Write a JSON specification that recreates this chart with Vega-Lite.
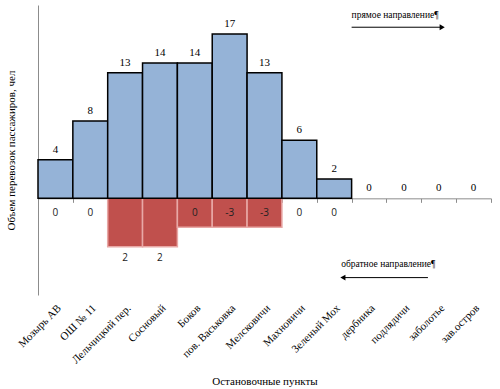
{
  "$schema": "https://vega.github.io/schema/vega-lite/v6.json",
  "width": 453,
  "height": 290,
  "autosize": "none",
  "padding": {"left": 38, "top": 5, "right": 9, "bottom": 94},
  "background": "white",
  "config": {"view": {"stroke": null}, "font": "Liberation Serif"},
  "data": {"values": [
    {"stop": "Мозырь АВ", "fwd": 4, "rev": 0, "revLabel": "0"},
    {"stop": "ОШ № 11", "fwd": 8, "rev": 0, "revLabel": "0"},
    {"stop": "Лельчицкий пер.", "fwd": 13, "rev": -5, "revLabel": "2"},
    {"stop": "Сосновый", "fwd": 14, "rev": -5, "revLabel": "2"},
    {"stop": "Боков", "fwd": 14, "rev": -3, "revLabel": "0"},
    {"stop": "пов. Васьковка", "fwd": 17, "rev": -3, "revLabel": "-3"},
    {"stop": "Мелсковичи", "fwd": 13, "rev": -3, "revLabel": "-3"},
    {"stop": "Махновичи", "fwd": 6, "rev": 0, "revLabel": "0"},
    {"stop": "Зеленый Мох", "fwd": 2, "rev": 0, "revLabel": "0"},
    {"stop": "дербника", "fwd": 0, "rev": 0, "revLabel": ""},
    {"stop": "подлядичи", "fwd": 0, "rev": 0, "revLabel": ""},
    {"stop": "заболотье", "fwd": 0, "rev": 0, "revLabel": ""},
    {"stop": "зав.остров", "fwd": 0, "rev": 0, "revLabel": ""}
  ]},
  "resolve": {"axis": {"x": "independent"}},
  "layer": [
    {
      "transform": [{"filter": "datum.rev < 0"}],
      "mark": {"type": "bar", "fill": "#C0504D", "stroke": "#E8A8A6", "strokeWidth": 1.5},
      "encoding": {
        "x": {"field": "stop", "type": "nominal", "sort": null,
              "scale": {"paddingInner": 0, "paddingOuter": 0,
                        "domain": ["Мозырь АВ", "ОШ № 11", "Лельчицкий пер.", "Сосновый", "Боков", "пов. Васьковка", "Мелсковичи", "Махновичи", "Зеленый Мох", "дербника", "подлядичи", "заболотье", "зав.остров"]},
              "axis": {"orient": "bottom", "offset": -96.67, "labels": false, "title": null,
                       "domainColor": "#8c8c8c", "tickColor": "#8c8c8c", "tickSize": 4, "tickBand": "extent"}},
        "y": {"field": "rev", "type": "quantitative",
              "scale": {"domain": [-10, 20], "nice": false},
              "axis": {"domain": true, "domainColor": "#8c8c8c", "ticks": false, "labels": false, "grid": false,
                       "title": "Объем перевозок пассажиров, чел", "titleFontWeight": "normal", "titleFontSize": 11,
                       "titleFont": "Liberation Serif", "titlePadding": 22}}
      }
    },
    {
      "transform": [{"filter": "datum.fwd > 0"}],
      "mark": {"type": "bar", "fill": "#95B3D7", "stroke": "#000000", "strokeWidth": 1.5},
      "encoding": {
        "x": {"field": "stop", "type": "nominal", "sort": null,
              "axis": {"orient": "bottom", "domain": false, "ticks": false, "labelAngle": -45,
                       "labelFont": "Liberation Serif", "labelFontSize": 11, "labelColor": "#000",
                       "labelPadding": 7, "title": "Остановочные пункты", "titleFontWeight": "normal",
                       "titleFontSize": 11, "titleFont": "Liberation Serif", "titlePadding": 10}},
        "y": {"field": "fwd", "type": "quantitative",
              "axis": {"domain": true, "domainColor": "#8c8c8c", "ticks": false, "labels": false, "grid": false,
                       "title": "Объем перевозок пассажиров, чел", "titleFontWeight": "normal", "titleFontSize": 11,
                       "titleFont": "Liberation Serif", "titlePadding": 22}}
      }
    },
    {
      "mark": {"type": "text", "dy": -10, "font": "Liberation Serif", "fontSize": 11, "color": "#000"},
      "encoding": {
        "x": {"field": "stop", "type": "nominal", "sort": null, "axis": null},
        "y": {"field": "fwd", "type": "quantitative"},
        "text": {"field": "fwd"}
      }
    },
    {
      "transform": [{"filter": "datum.rev > -4 && datum.revLabel != ''"}],
      "mark": {"type": "text", "dy": 15, "font": "Open Sans", "fontSize": 10, "color": "#222"},
      "encoding": {
        "x": {"field": "stop", "type": "nominal", "sort": null, "axis": null},
        "y": {"datum": 0},
        "text": {"field": "revLabel"}
      }
    },
    {
      "transform": [{"filter": "datum.rev <= -4"}],
      "mark": {"type": "text", "dy": 11, "font": "Open Sans", "fontSize": 10, "color": "#222"},
      "encoding": {
        "x": {"field": "stop", "type": "nominal", "sort": null, "axis": null},
        "y": {"field": "rev", "type": "quantitative"},
        "text": {"field": "revLabel"}
      }
    },
    {
      "data": {"values": [{"t": "прямое направление¶"}]},
      "mark": {"type": "text", "align": "left", "font": "Liberation Serif", "fontSize": 9.5, "color": "#000"},
      "encoding": {
        "x": {"datum": "дербника", "bandPosition": 0, "axis": null},
        "y": {"datum": 19},
        "text": {"field": "t"}
      }
    },
    {
      "data": {"values": [{"t": "обратное направление¶"}]},
      "mark": {"type": "text", "align": "left", "font": "Liberation Serif", "fontSize": 9.5, "color": "#000"},
      "encoding": {
        "x": {"datum": "Зеленый Мох", "bandPosition": 0.7, "axis": null},
        "y": {"datum": -6.8},
        "text": {"field": "t"}
      }
    },
    {
      "data": {"values": [{}]},
      "mark": {"type": "rule", "color": "#000", "strokeWidth": 1},
      "encoding": {
        "x": {"datum": "дербника", "bandPosition": 0, "axis": null},
        "x2": {"datum": "заболотье", "bandPosition": 0.6},
        "y": {"datum": 17.7}
      }
    },
    {
      "data": {"values": [{}]},
      "mark": {"type": "point", "shape": "triangle-right", "filled": true, "color": "#000", "size": 35, "opacity": 1},
      "encoding": {
        "x": {"datum": "заболотье", "bandPosition": 0.6, "axis": null},
        "y": {"datum": 17.7}
      }
    },
    {
      "data": {"values": [{}]},
      "mark": {"type": "rule", "color": "#000", "strokeWidth": 1},
      "encoding": {
        "x": {"datum": "Зеленый Мох", "bandPosition": 0.75, "axis": null},
        "x2": {"datum": "заболотье", "bandPosition": 0.19},
        "y": {"datum": -8.2}
      }
    },
    {
      "data": {"values": [{}]},
      "mark": {"type": "point", "shape": "triangle-left", "filled": true, "color": "#000", "size": 35, "opacity": 1},
      "encoding": {
        "x": {"datum": "Зеленый Мох", "bandPosition": 0.75, "axis": null},
        "y": {"datum": -8.2}
      }
    }
  ]
}
